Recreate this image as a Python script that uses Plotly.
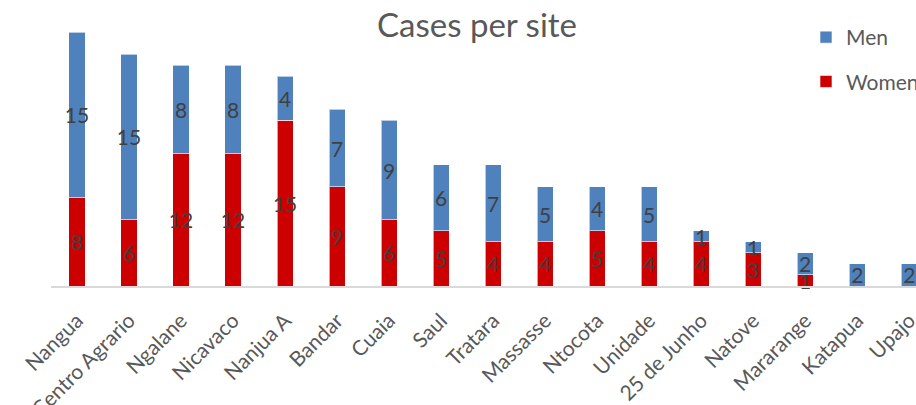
import plotly.graph_objects as go

sites = ["Nangua", "Centro Agrario", "Ngalane", "Nicavaco", "Nanjua A", "Bandar", "Cuaia",
         "Saul", "Tratara", "Massasse", "Ntocota", "Unidade", "25 de Junho", "Natove",
         "Mararange", "Katapua", "Upajo"]
women = [8, 6, 12, 12, 15, 9, 6, 5, 4, 4, 5, 4, 4, 3, 1, 0, 0]
men = [15, 15, 8, 8, 4, 7, 9, 6, 7, 5, 4, 5, 1, 1, 2, 2, 2]

BLUE = "#4F81BD"
RED = "#CC0000"
LABEL = "#404040"
GRAY = "#595959"
FONT = "Lato, Carlito, Calibri, sans-serif"

def labels(vals):
    return [str(v) if v else "" for v in vals]

fig = go.Figure()
fig.add_trace(go.Bar(
    x=sites, y=women, name="Women", marker=dict(color=RED, line=dict(color="rgba(255,255,255,0.6)", width=1)),
    text=labels(women), textposition="inside", insidetextanchor="middle", textangle=0,
    textfont=dict(color=LABEL, size=21, family=FONT), legendgroup="w", legendrank=2, cliponaxis=False,
))
fig.add_trace(go.Bar(
    x=sites, y=men, name="Men", marker=dict(color=BLUE, line=dict(color="rgba(255,255,255,0.6)", width=1)),
    text=labels(men), textposition="inside", insidetextanchor="middle", textangle=0,
    textfont=dict(color=LABEL, size=21, family=FONT), legendgroup="m", legendrank=1, cliponaxis=False,
))

fig.update_layout(
    width=916, height=405,
    barmode="stack", bargap=0.69,
    paper_bgcolor="white", plot_bgcolor="white",
    margin=dict(l=51, r=0, t=10, b=119, autoexpand=False),
    font=dict(family=FONT, color=GRAY),
    uniformtext=dict(minsize=21, mode="show"),
    title=dict(text="Cases per site", x=477/916, xref="container", xanchor="center",
               y=1 - 25/405, yref="container", yanchor="middle",
               font=dict(size=33, color=GRAY, family=FONT)),
    showlegend=True,
    legend=dict(x=806/916, xref="container", xanchor="left", y=1 - 17/405, yref="container", yanchor="top",
                traceorder="grouped", tracegroupgap=14,
                font=dict(size=21, color=GRAY, family=FONT), bgcolor="rgba(0,0,0,0)",
                itemwidth=30),
    xaxis=dict(range=[-0.5, 16.13], tickangle=-45, tickfont=dict(size=21, color=GRAY, family=FONT),
               showline=True, linecolor="#D9D9D9", linewidth=2, showgrid=False, ticks="",
               zeroline=False, ticklabelstandoff=12, automargin=False),
    yaxis=dict(range=[0, 25], visible=False, showgrid=False, zeroline=False, automargin=False),
)

fig.write_html("out.html")
